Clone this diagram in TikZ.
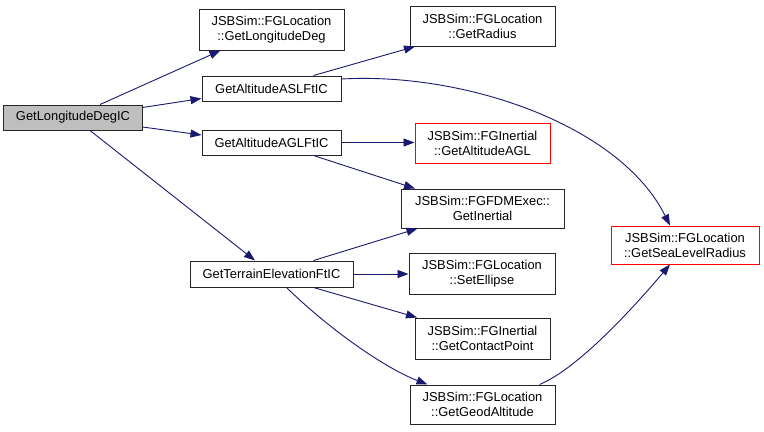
\documentclass[tikz,border=0pt]{standalone}
\usepackage{fontspec}
\setmainfont{Liberation Sans}
\usetikzlibrary{arrows.meta,calc}
\definecolor{edgeblue}{RGB}{25,25,112}
\definecolor{boxgray}{RGB}{191,191,191}
\definecolor{boxred}{RGB}{255,0,0}
\begin{document}
\begin{tikzpicture}[x=1bp,y=-1bp,
  fn/.style={draw=black!85,line width=1bp,fill=white,inner sep=0pt,align=center,
    font=\fontsize{12.9bp}{15bp}\selectfont},
  fnred/.style={fn,draw=boxred},
  fngray/.style={fn,fill=boxgray},
  call/.style={draw=edgeblue,line width=0.9bp,
    arrows={-{Triangle[length=11bp,width=8bp,fill=edgeblue,color=edgeblue]}}}]
\useasboundingbox (0,0) rectangle (764,431);
\fill[white] (0,0) rectangle (764,431);

\node[fngray,minimum width=138bp,minimum height=25bp] (ldic) at (73,117.5) {GetLongitudeDegIC};
\node[fn,minimum width=145bp,minimum height=41bp] (lonDeg) at (271.5,29.5) {JSBSim::FGLocation\\::GetLongitudeDeg};
\node[fn,minimum width=139bp,minimum height=25bp] (asl) at (271.5,88.5) {GetAltitudeASLFtIC};
\node[fn,minimum width=139bp,minimum height=25bp] (agl) at (271.5,142.5) {GetAltitudeAGLFtIC};
\node[fn,minimum width=145bp,minimum height=40bp] (radius) at (482.5,26) {JSBSim::FGLocation\\::GetRadius};
\node[fnred,minimum width=135bp,minimum height=40bp] (altagl) at (482.5,143) {JSBSim::FGInertial\\::GetAltitudeAGL};
\node[fn,minimum width=163bp,minimum height=39bp] (inertial) at (482.5,208.5) {JSBSim::FGFDMExec::\\GetInertial};
\node[fn,minimum width=163bp,minimum height=26bp] (terrain) at (271.5,274) {GetTerrainElevationFtIC};
\node[fn,minimum width=146bp,minimum height=41bp] (ellipse) at (482,273.5) {JSBSim::FGLocation\\::SetEllipse};
\node[fn,minimum width=135bp,minimum height=41bp] (contact) at (482.5,338.5) {JSBSim::FGInertial\\::GetContactPoint};
\node[fn,minimum width=145bp,minimum height=39bp] (geod) at (482.5,404.5) {JSBSim::FGLocation\\::GetGeodAltitude};
\node[fnred,minimum width=148bp,minimum height=38bp] (sealevel) at (685,245) {JSBSim::FGLocation\\::GetSeaLevelRadius};

\draw[call] ($(ldic.north)+(27,0)$) -- ($(lonDeg.south)+(-51,0)$);
\draw[call] ($(ldic.east)+(0,-10)$) -- ($(asl.west)+(0,10)$);
\draw[call] ($(ldic.east)+(0,9.5)$) -- ($(agl.west)+(0,-7.5)$);
\draw[call] ($(ldic.south)+(17,0)$) -- ($(terrain.north)+(-16.5,0)$);
\draw[call] ($(asl.north)+(42,0)$) -- ($(radius.south)+(-67.5,0)$);
\draw[call] ($(asl.east)+(0,-9.5)$) .. controls (465,72) and (620,125) .. ($(sealevel.north)+(-15,0)$);
\draw[call] (agl.east) -- (altagl.west |- agl.east);
\draw[call] ($(agl.south)+(42,0)$) -- ($(inertial.north)+(-67.5,0)$);
\draw[call] ($(terrain.north)+(42,0)$) -- ($(inertial.south)+(-65,0)$);
\draw[call] (terrain.east) -- (ellipse.west |- terrain.east);
\draw[call] ($(terrain.south)+(42,0)$) -- ($(contact.north)+(-65.5,0)$);
\draw[call] ($(terrain.south)+(15,0)$) .. controls (330,330) and (385,368) .. ($(geod.north)+(-55,0)$);
\draw[call] ($(geod.north)+(57,0)$) .. controls (580,368) and (640,300) .. ($(sealevel.south)+(-15,0)$);
\end{tikzpicture}
\end{document}
